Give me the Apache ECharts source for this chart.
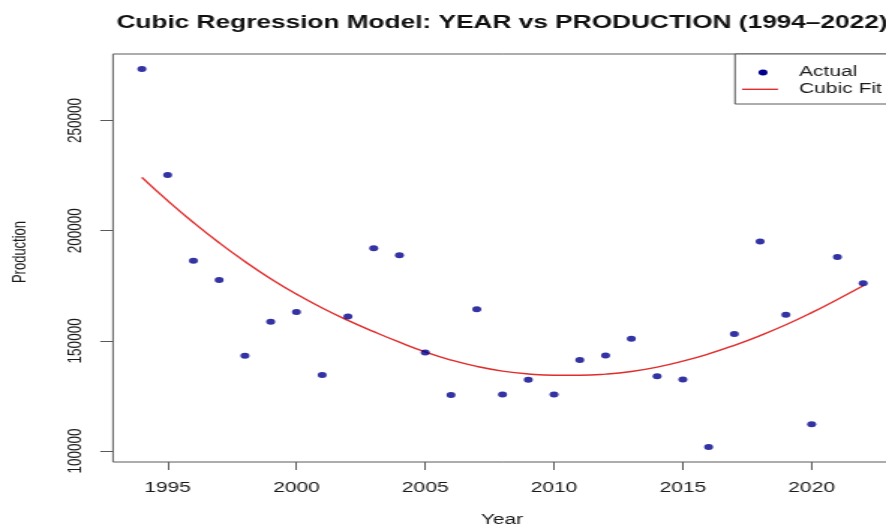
<!DOCTYPE html>
<html>
<head>
<meta charset="utf-8">
<title>Cubic Regression Model: YEAR vs PRODUCTION (1994–2022)</title>
<script src="https://cdn.jsdelivr.net/npm/echarts@6/dist/echarts.min.js"></script>
<style>
  html, body { margin: 0; padding: 0; background: #fff; overflow: hidden; }
  #wrap { width: 886px; height: 532px; overflow: hidden; position: relative; }
  #chart { width: 610px; height: 532px; transform-origin: 0 0; transform: scaleX(1.49915); }
</style>
</head>
<body>
<div id="wrap"><div id="chart"></div></div>
<script>
// Yearly production, 1994-2022
const years = [1994, 1995, 1996, 1997, 1998, 1999, 2000, 2001, 2002, 2003,
               2004, 2005, 2006, 2007, 2008, 2009, 2010, 2011, 2012, 2013,
               2014, 2015, 2016, 2017, 2018, 2019, 2020, 2021, 2022];
const production = [273300, 225300, 186400, 177600, 143300, 158700, 163100, 134500, 161100, 192000,
                    188900, 144700, 125400, 164400, 125700, 132400, 125700, 141300, 143400, 151000,
                    133900, 132500, 101900, 153100, 195100, 161800, 112200, 188000, 176200];
// Fitted cubic trend evaluated at each year
const cubicFit = [224200, 213600, 203700, 194500, 186000, 178200, 171200, 164900, 159300, 154200,
                  149400, 145000, 141300, 138400, 136300, 135000, 134400, 134400, 134900, 136100,
                  138100, 140800, 144100, 148000, 152400, 157300, 162800, 168800, 175000];
const xTicks = [1995, 2000, 2005, 2010, 2015, 2020];
const yTicks = [100000, 150000, 200000, 250000];

const SX = 886 / 591;           // horizontal stretch of the drawing
const px = v => v / SX;         // page x -> chart x

// axis ranges padded by 4% on each side, like R's default
function padded(arr) {
  const lo = Math.min(...arr), hi = Math.max(...arr), p = (hi - lo) * 0.04;
  return [lo - p, hi + p];
}
const [xMin, xMax] = padded(years);
const [yMin, yMax] = padded(production);

const FONT = '"Liberation Sans", Arial, sans-serif';
const INK = '#1a1a1a';
const DOT = '#00008c';
const FIT = '#e22b2b';
const FRAME = '#5a5a5a';

const chart = echarts.init(document.getElementById('chart'), null, { renderer: 'canvas', width: 610, height: 532 });

chart.setOption({
  animation: false,
  backgroundColor: '#fff',
  grid: {
    left: px(113), top: 54, width: px(779), height: 408,
    show: true, borderColor: FRAME, borderWidth: 1, backgroundColor: 'transparent'
  },
  xAxis: {
    type: 'value', min: xMin, max: xMax,
    axisLine: { show: false },
    splitLine: { show: false },
    axisTick: { show: true, inside: false, length: 8, customValues: xTicks, lineStyle: { color: FRAME } },
    axisLabel: { show: true, customValues: xTicks, margin: 19, fontSize: 14, fontFamily: FONT, color: INK,
                 formatter: v => String(v) }
  },
  yAxis: {
    type: 'value', min: yMin, max: yMax,
    axisLine: { show: false },
    splitLine: { show: false },
    axisTick: { show: true, inside: false, length: 8.5, customValues: yTicks, lineStyle: { color: FRAME } },
    axisLabel: { show: true, customValues: yTicks, rotate: 90, margin: 18, fontSize: 13.5, fontFamily: FONT, color: INK,
                 formatter: v => String(v) }
  },
  series: [
    {
      name: 'Actual', type: 'scatter',
      data: years.map((y, i) => [y, production[i]]),
      symbol: 'circle', symbolSize: 6,
      itemStyle: { color: DOT },
      z: 3
    },
    {
      name: 'Cubic Fit', type: 'line',
      data: years.map((y, i) => [y, cubicFit[i]]),
      smooth: true, showSymbol: false, symbol: 'none',
      lineStyle: { color: FIT, width: 1.4 },
      z: 2
    }
  ],
  graphic: [
    { type: 'text', x: px(502), y: 23,
      style: { text: 'Cubic Regression Model: YEAR vs PRODUCTION (1994\u20132022)',
               fontFamily: FONT, fontWeight: 'bold', fontSize: 17.5, fill: '#111',
               align: 'center', verticalAlign: 'middle' } },
    { type: 'text', x: px(502), y: 520,
      style: { text: 'Year', fontFamily: FONT, fontSize: 14, fill: INK, align: 'center', verticalAlign: 'middle' } },
    { type: 'text', x: px(20), y: 252, rotation: Math.PI / 2,
      style: { text: 'Production', fontFamily: FONT, fontSize: 13, fill: INK, align: 'center', verticalAlign: 'middle' } },
    // legend box in the top-right corner of the plot
    { type: 'rect', shape: { x: px(735), y: 54, width: px(160), height: 50 },
      style: { fill: '#fff', stroke: FRAME, lineWidth: 1 }, z: 10 },
    { type: 'circle', shape: { cx: px(763), cy: 72.5, r: 3 }, style: { fill: DOT }, z: 11 },
    { type: 'line', shape: { x1: px(742), y1: 89.3, x2: px(778), y2: 89.3 },
      style: { stroke: FIT, lineWidth: 1.4 }, z: 11 },
    { type: 'text', x: px(799), y: 72.5, z: 11,
      style: { text: 'Actual', fontFamily: FONT, fontSize: 14, fill: INK, align: 'left', verticalAlign: 'middle' } },
    { type: 'text', x: px(799), y: 89.3, z: 11,
      style: { text: 'Cubic Fit', fontFamily: FONT, fontSize: 14, fill: INK, align: 'left', verticalAlign: 'middle' } }
  ]
});
</script>
</body>
</html>
